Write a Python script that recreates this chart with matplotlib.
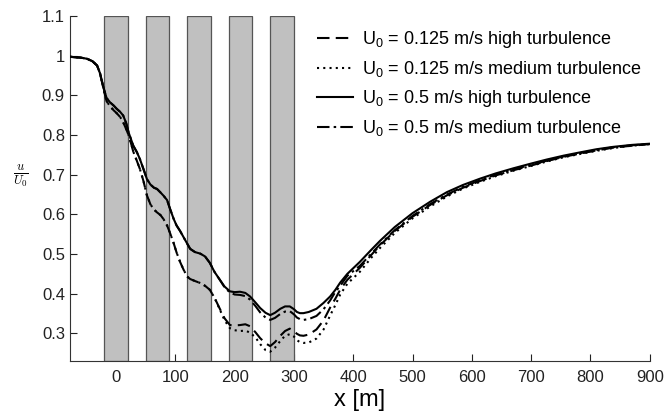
import matplotlib
matplotlib.use("Agg")
import matplotlib.pyplot as plt

plt.rcParams['font.family'] = ['Liberation Sans', 'DejaVu Sans']
plt.rcParams['mathtext.fontset'] = 'custom'
plt.rcParams['mathtext.rm'] = 'Liberation Sans'
plt.rcParams['mathtext.it'] = 'Liberation Sans:italic'

# Streamwise positions [m]
x = [-78, -60, -49, -40, -32, -27, -21, -16, -10, -4, 1, 7, 12, 17, 21, 25, 29, 35, 40, 46,
     52, 58, 64, 69, 75, 80, 86, 91, 97, 102, 108, 114, 120, 125, 133, 142, 150, 158, 166, 175,
     183, 192, 200, 209, 218, 226, 235, 243, 252, 260, 268, 277, 285, 293, 300, 305, 310, 316, 325, 338,
     350, 361, 370, 378, 390, 411, 430, 445, 470, 500, 530, 558, 585, 614, 640, 670, 700, 726, 755, 782,
     810, 838, 870, 900]

# Normalised velocity u/U0 for each case
u_0125_high = [0.997, 0.995, 0.992, 0.986, 0.975, 0.955, 0.915, 0.885, 0.872, 0.862, 0.855, 0.845, 0.832, 0.815, 0.800, 0.780, 0.758, 0.735, 0.715, 0.685,
               0.648, 0.625, 0.612, 0.605, 0.598, 0.588, 0.572, 0.553, 0.528, 0.504, 0.480, 0.460, 0.443, 0.437, 0.432, 0.427, 0.420, 0.410, 0.390, 0.362,
               0.338, 0.321, 0.320, 0.321, 0.323, 0.318, 0.303, 0.288, 0.275, 0.268, 0.278, 0.294, 0.306, 0.312, 0.306, 0.299, 0.295, 0.294, 0.297, 0.310,
               0.333, 0.365, 0.388, 0.410, 0.435, 0.465, 0.497, 0.522, 0.558, 0.594, 0.624, 0.648, 0.667, 0.684, 0.698, 0.711, 0.723, 0.734, 0.745, 0.753,
               0.761, 0.768, 0.773, 0.777]
u_0125_medium = [0.997, 0.995, 0.992, 0.986, 0.975, 0.955, 0.915, 0.885, 0.872, 0.862, 0.855, 0.845, 0.832, 0.815, 0.800, 0.780, 0.758, 0.735, 0.715, 0.685,
                 0.648, 0.625, 0.612, 0.605, 0.598, 0.588, 0.572, 0.553, 0.528, 0.504, 0.480, 0.460, 0.443, 0.437, 0.432, 0.427, 0.420, 0.410, 0.390, 0.360,
                 0.333, 0.313, 0.308, 0.306, 0.307, 0.302, 0.290, 0.273, 0.258, 0.254, 0.264, 0.281, 0.294, 0.298, 0.292, 0.283, 0.278, 0.276, 0.277, 0.287,
                 0.310, 0.345, 0.372, 0.398, 0.425, 0.455, 0.490, 0.515, 0.553, 0.590, 0.620, 0.645, 0.665, 0.682, 0.696, 0.710, 0.722, 0.733, 0.744, 0.752,
                 0.760, 0.767, 0.773, 0.777]
u_05_high = [0.997, 0.995, 0.992, 0.986, 0.975, 0.955, 0.918, 0.893, 0.882, 0.874, 0.866, 0.858, 0.849, 0.830, 0.807, 0.790, 0.773, 0.757, 0.740, 0.715,
             0.689, 0.675, 0.667, 0.664, 0.655, 0.647, 0.636, 0.614, 0.589, 0.572, 0.558, 0.542, 0.526, 0.513, 0.505, 0.501, 0.494, 0.478, 0.455, 0.435,
             0.418, 0.406, 0.404, 0.405, 0.402, 0.393, 0.378, 0.364, 0.352, 0.346, 0.352, 0.362, 0.368, 0.368, 0.361, 0.354, 0.351, 0.351, 0.354, 0.362,
             0.377, 0.393, 0.410, 0.428, 0.450, 0.480, 0.510, 0.533, 0.568, 0.603, 0.632, 0.656, 0.674, 0.690, 0.703, 0.716, 0.728, 0.738, 0.748, 0.756,
             0.764, 0.770, 0.775, 0.778]
u_05_medium = [0.997, 0.995, 0.992, 0.986, 0.975, 0.955, 0.918, 0.893, 0.882, 0.874, 0.866, 0.858, 0.849, 0.830, 0.807, 0.790, 0.773, 0.757, 0.740, 0.715,
               0.689, 0.675, 0.667, 0.664, 0.655, 0.647, 0.636, 0.614, 0.589, 0.572, 0.558, 0.542, 0.526, 0.513, 0.505, 0.501, 0.494, 0.478, 0.455, 0.435,
               0.416, 0.403, 0.398, 0.397, 0.394, 0.385, 0.369, 0.353, 0.340, 0.334, 0.339, 0.349, 0.355, 0.356, 0.348, 0.340, 0.336, 0.334, 0.336, 0.344,
               0.361, 0.383, 0.405, 0.420, 0.445, 0.470, 0.500, 0.524, 0.560, 0.596, 0.626, 0.650, 0.669, 0.686, 0.700, 0.713, 0.725, 0.735, 0.746, 0.754,
               0.762, 0.769, 0.774, 0.777]

# Turbine rows: streamwise start and end [m]
row_start = [-20, 50, 120, 190, 260]
row_end = [20, 90, 160, 230, 300]

labels = ["U$_0$ = 0.125 m/s high turbulence",
          "U$_0$ = 0.125 m/s medium turbulence",
          "U$_0$ = 0.5 m/s high turbulence",
          "U$_0$ = 0.5 m/s medium turbulence"]

x_ticks = [0, 100, 200, 300, 400, 500, 600, 700, 800, 900]
y_ticks = [0.3, 0.4, 0.5, 0.6, 0.7, 0.8, 0.9, 1.0, 1.1]
y_ticklabels = ["0.3", "0.4", "0.5", "0.6", "0.7", "0.8", "0.9", "1", "1.1"]

fig = plt.figure(figsize=(6.65, 4.19), dpi=100)
ax = fig.add_axes([0.105, 0.138, 0.872, 0.824])

for a, b in zip(row_start, row_end):
    ax.axvspan(a, b, facecolor='#c0c0c0', edgecolor='#555555', linewidth=0.9, zorder=1)

lw = 1.5
ax.plot(x, u_0125_high, color='black', lw=lw, linestyle=(0, (6, 3)), label=labels[0], zorder=3)
ax.plot(x, u_0125_medium, color='black', lw=lw, linestyle=(0, (1, 2)), label=labels[1], zorder=3)
ax.plot(x, u_05_high, color='black', lw=lw, linestyle='-', label=labels[2], zorder=3)
ax.plot(x, u_05_medium, color='black', lw=lw, linestyle=(0, (6, 2, 1.2, 2)), label=labels[3], zorder=3)

ax.set_xlim(-78, 900)
ax.set_ylim(0.23, 1.1)
ax.set_xticks(x_ticks)
ax.set_yticks(y_ticks)
ax.set_yticklabels(y_ticklabels)
ax.tick_params(direction='in', length=5, width=0.8, labelsize=12, colors='#222222')
ax.tick_params(axis='x', pad=6)
ax.set_axisbelow(True)
for side in ('top', 'right'):
    ax.spines[side].set_visible(False)
for side in ('left', 'bottom'):
    ax.spines[side].set_linewidth(0.8)
    ax.spines[side].set_color('#333333')

ax.set_xlabel("x [m]", fontsize=17, labelpad=3)
ax.set_ylabel(r"$\frac{u}{U_0}$", fontsize=13, rotation=0, math_fontfamily='cm', labelpad=18)
ax.yaxis.set_label_coords(-0.085, 0.5)

leg = ax.legend(loc='upper left', bbox_to_anchor=(0.477, 0.93), bbox_transform=fig.transFigure,
                frameon=False, fontsize=13, handlelength=2.0, handletextpad=0.5,
                labelspacing=0.5, borderpad=0, borderaxespad=0)

fig.savefig("out.png", dpi=100)
